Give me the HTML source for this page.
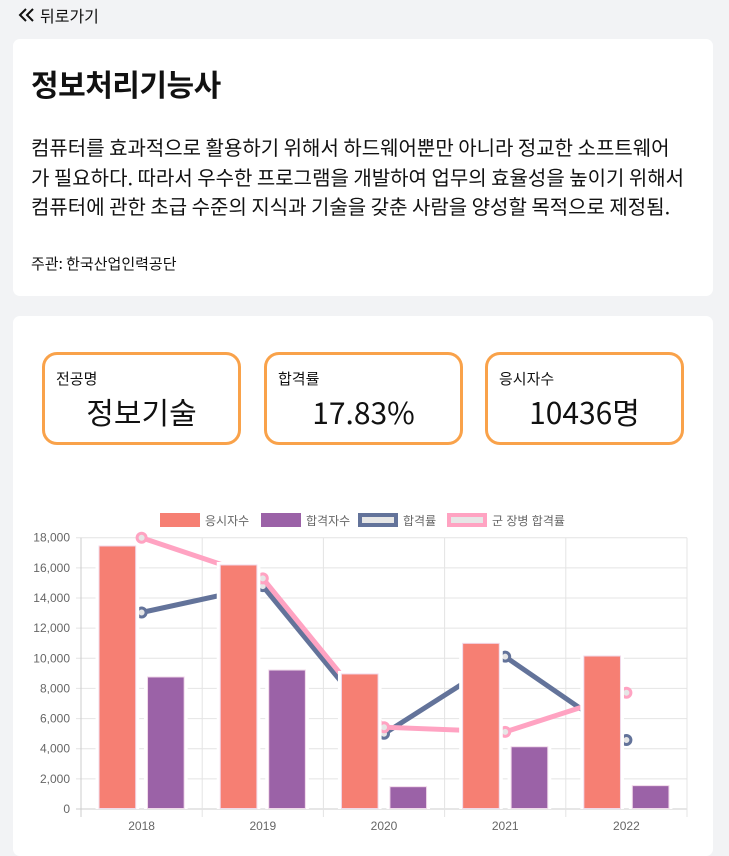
<!DOCTYPE html>
<html><head><meta charset="utf-8">
<style>
body{margin:0;width:729px;height:840px;overflow:hidden;background:#f2f3f5;font-family:"Noto Sans CJK KR","Liberation Sans",sans-serif;color:#111;position:relative}
.back{position:absolute;left:18px;top:3px;font-size:16px;display:flex;align-items:center;gap:4px}
.card{position:absolute;left:13px;width:700px;background:#fff;border-radius:7px}
h1{position:absolute;left:18px;top:22px;margin:0;font-size:30px;font-weight:bold;letter-spacing:-0.5px}
.desc{position:absolute;left:18px;top:93px;width:680px;font-size:20px;line-height:29.5px;margin:0;white-space:nowrap}
.org{position:absolute;left:18px;top:214px;font-size:15px}
.stat{position:absolute;top:352px;width:193px;height:87px;border:3px solid #f9a24a;border-radius:15px;background:#fff}
.stat .l{position:absolute;left:11px;top:13px;font-size:15px}
.stat .v{position:absolute;left:0;right:0;top:36px;text-align:center;font-size:30px;line-height:40px}
</style></head><body>
<div class="back"><svg width="18" height="16"><path d="M8 2 L2 8 L8 14 M15 2 L9 8 L15 14" stroke="#111" stroke-width="2" fill="none"/></svg>뒤로가기</div>
<div class="card" style="top:39px;height:257px">
<h1>정보처리기능사</h1>
<p class="desc">컴퓨터를 효과적으로 활용하기 위해서 하드웨어뿐만 아니라 정교한 소프트웨어<br>가 필요하다. 따라서 우수한 프로그램을 개발하여 업무의 효율성을 높이기 위해서<br>컴퓨터에 관한 초급 수준의 지식과 기술을 갖춘 사람을 양성할 목적으로 제정됨.</p>
<div class="org">주관: 한국산업인력공단</div>
</div>
<div class="card" style="top:316px;height:540px"></div>
<div class="stat" style="left:42px"><div class="l">전공명</div><div class="v">정보기술</div></div>
<div class="stat" style="left:264px"><div class="l">합격률</div><div class="v">17.83%</div></div>
<div class="stat" style="left:485px"><div class="l">응시자수</div><div class="v">10436명</div></div>
<svg id="chart" style="position:absolute;left:0;top:0;font-family:'Liberation Sans','Noto Sans CJK KR',sans-serif" width="729" height="840"></svg>
<script>
const categories=["2018","2019","2020","2021","2022"];
const applicants=[17450,16190,8960,10990,10150];
const passers=[8760,9220,1480,4130,1550];
const passRate=[50.7,57.5,19.4,39.3,17.8];
const soldierRate=[70.0,59.5,21.1,19.9,30.0];
const yTicks=[0,2000,4000,6000,8000,10000,12000,14000,16000,18000];
const NS="http://www.w3.org/2000/svg";
const svg=document.getElementById('chart');
const L=81,R=687,T=537.7,B=809,YMAX=18000,RMAX=70;
const cw=(R-L)/categories.length;
const xc=i=>L+cw*(i+0.5);
const y=v=>B-(v/YMAX)*(B-T);
const yr=v=>B-(v/RMAX)*(B-T);
function mk(t,a,p){const e=document.createElementNS(NS,t);for(const k in a)e.setAttribute(k,a[k]);(p||svg).appendChild(e);return e;}
const fmt=v=>v.toLocaleString('en-US');
yTicks.forEach(v=>{
 const g=mk('line',{x1:L-5,x2:R,y1:y(v),y2:y(v),stroke:v===0?'#ccc':'#e4e4e4','stroke-width':1});
 
 
 const t=mk('text',{x:L-11,y:y(v)+4,'text-anchor':'end','font-size':12,fill:'#666'});
 t.textContent=fmt(v);
 
 
});
for(let i=0;i<=categories.length;i++){
 const g=mk('line',{x1:L+cw*i,x2:L+cw*i,y1:T,y2:B+8,stroke:i===0?'#ccc':'#e4e4e4','stroke-width':1});
 
 
}
categories.forEach((c,i)=>{
 const t=mk('text',{x:xc(i),y:B+21,'text-anchor':'middle','font-size':12,fill:'#666'});
 t.textContent=c;
 
 
});
function drawLine(vals,color,name){
 const pts=vals.map((v,i)=>xc(i)+','+yr(v)).join(' ');
 const pl=mk('polyline',{points:pts,fill:'none',stroke:color,'stroke-width':5});
 
 
 vals.forEach((v,i)=>{
  const c=mk('circle',{cx:xc(i),cy:yr(v),r:4.5,fill:'#e6e6e6',stroke:color,'stroke-width':3});
  
  
 });
}
drawLine(passRate,'#63739a','pass-rate');
drawLine(soldierRate,'#ffa3c2','soldier-pass-rate');
const slot=cw*0.8/2;
function drawBars(vals,color,off,name){
 vals.forEach((v,i)=>{
  const cx=xc(i)+off*slot/2;
  const w=slot*0.9;
  const bg=mk('rect',{x:cx-w/2,y:y(v)-3,width:w,height:B-y(v)+3,fill:'#fff'});
  
  
  const r=mk('rect',{x:cx-w/2+3.5,y:y(v),width:w-7,height:B-y(v)-0.5,fill:color,stroke:'#f1d9ea','stroke-width':1});
  
  
 });
}
drawBars(applicants,'#f67f73',-1,'applicants');
drawBars(passers,'#9b62a7',1,'passers');
const legend=[['응시자수','#f67f73','#f67f73',160],['합격자수','#9b62a7','#9b62a7',261],['합격률','#e6e6e6','#63739a',358],['군 장병 합격률','#e6e6e6','#ffa3c2',447]];
legend.forEach(([lab,f,s,x])=>{
 const r=mk('rect',{x:x+2,y:515,width:36,height:10,fill:f,stroke:s,'stroke-width':4});
 
 
 const t=mk('text',{x:x+45,y:525,'font-size':12,fill:'#666'});
 t.textContent=lab;
 
 
});
</script>
</body></html>
